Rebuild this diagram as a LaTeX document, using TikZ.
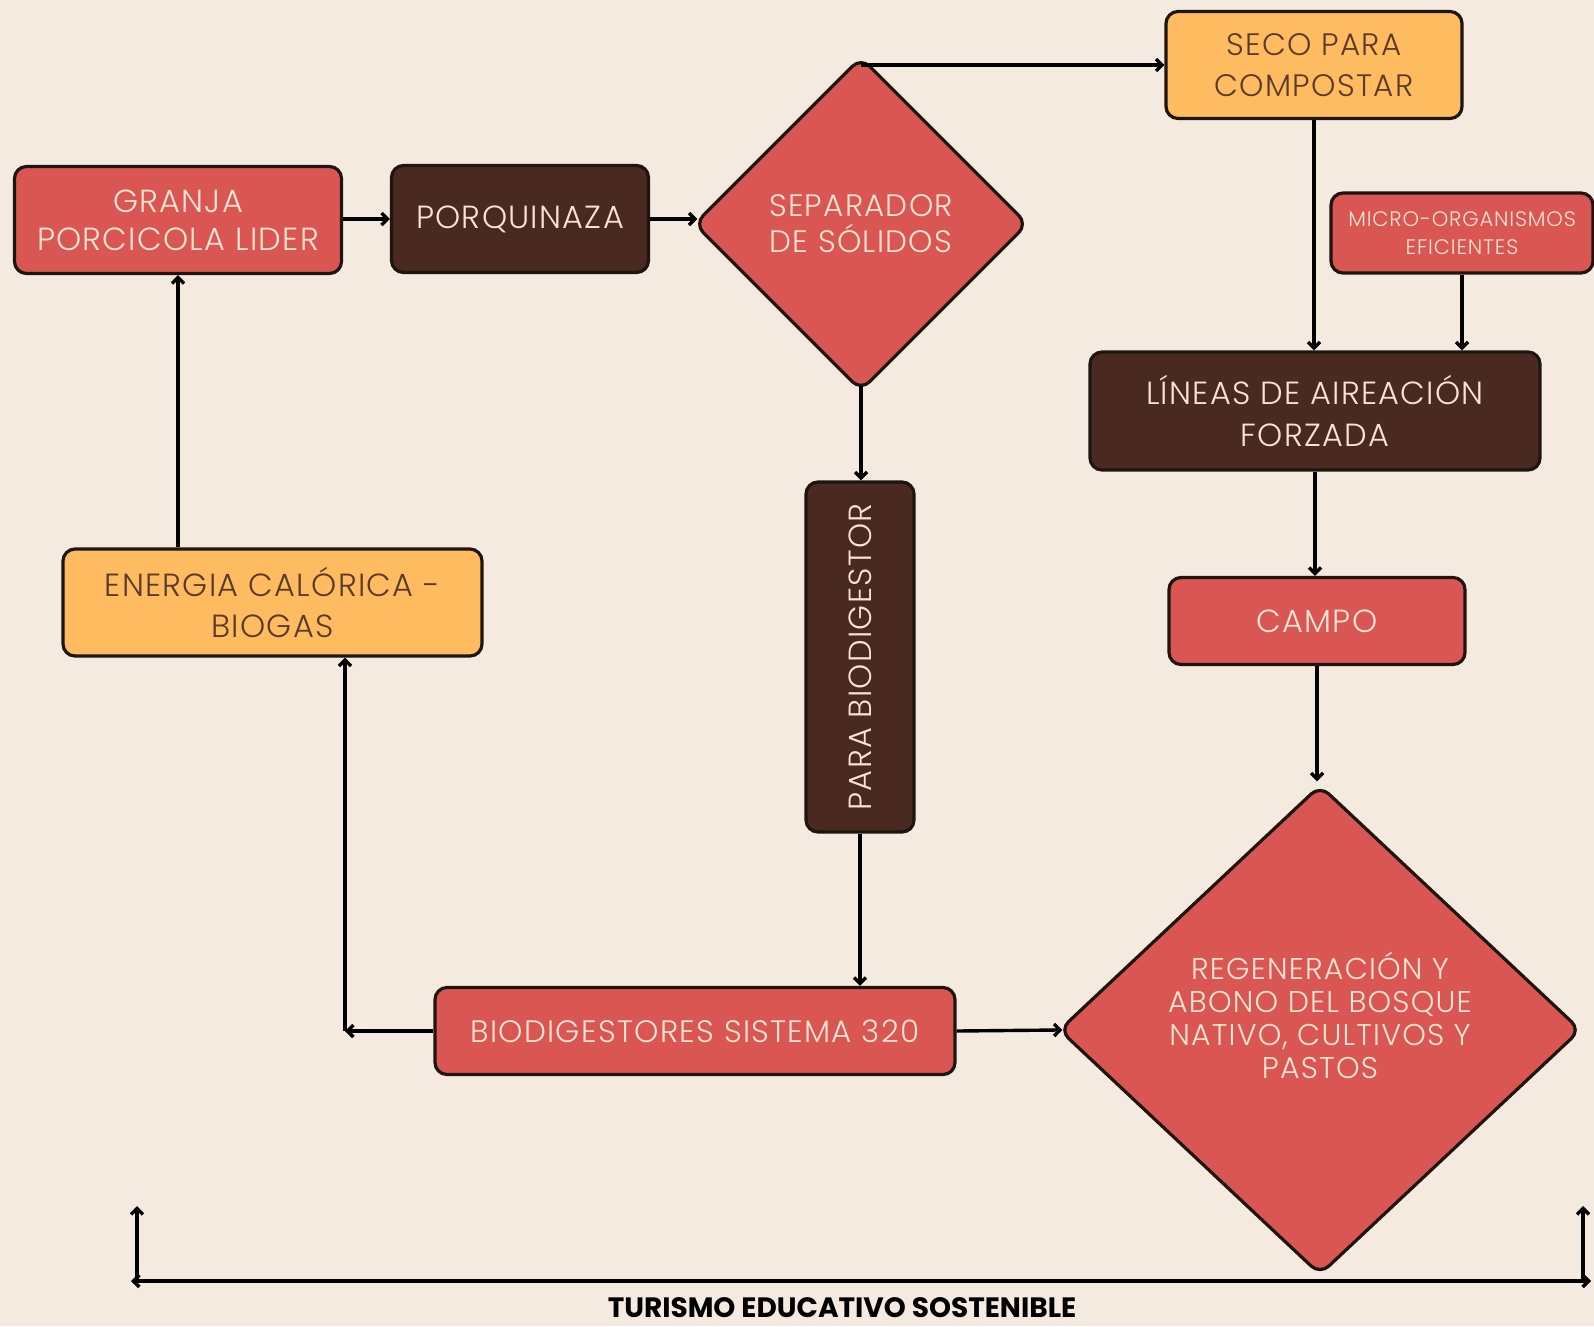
\documentclass[tikz,border=0pt]{standalone}
\usepackage{fontspec}
\setmainfont{Poppins}
\newfontfamily\boxfont{Poppins Light}[LetterSpace=4]
\usetikzlibrary{shapes.geometric,arrows.meta}
\definecolor{bg}{HTML}{F5EADF}
\definecolor{boxred}{HTML}{DA5652}
\definecolor{boxbrown}{HTML}{4A2A20}
\definecolor{boxorange}{HTML}{FFBB60}
\definecolor{cream}{HTML}{F7E4D4}
\definecolor{txtbrown}{HTML}{5A3A2A}
\definecolor{edge}{HTML}{1E1410}
\begin{document}
\begin{tikzpicture}[x=1pt,y=-1pt,
  box/.style={draw=edge, line width=3.2pt, rounded corners=12pt, inner sep=0pt, align=center, text=cream,
    font=\boxfont\fontsize{32}{38}\selectfont},
  redbox/.style={box, fill=boxred},
  brownbox/.style={box, fill=boxbrown},
  orangebox/.style={box, fill=boxorange, text=txtbrown},
  dia/.style={diamond, draw=edge, line width=3.2pt, rounded corners=12pt, fill=boxred, text=cream,
    align=center, inner sep=0pt},
  conn/.style={draw=black, line width=3.4pt, -{Straight Barb[length=6pt,width=12pt]}},
  conn2/.style={draw=black, line width=3.4pt, {Straight Barb[length=6pt,width=12pt]}-{Straight Barb[length=6pt,width=12pt]}}
]
\fill[bg] (0,0) rectangle (1594,1326);
\useasboundingbox (0,0) rectangle (1594,1326);

% nodes
\node[redbox, minimum width=327pt, minimum height=107pt] (granja) at (178,220) {GRANJA\\PORCICOLA LIDER};
\node[brownbox, minimum width=257pt, minimum height=107pt] (porq) at (520,219) {PORQUINAZA};
\node[dia, minimum width=334pt, minimum height=334pt, font=\boxfont\fontsize{31}{36}\selectfont] (sep) at (861,224) {SEPARADOR\\DE SÓLIDOS};
\node[orangebox, minimum width=296pt, minimum height=107pt, font=\boxfont\fontsize{31}{41}\selectfont] (seco) at (1314,65) {SECO PARA\\COMPOSTAR};
\node[redbox, minimum width=262pt, minimum height=80pt, font=\boxfont\fontsize{21}{27.5}\selectfont] (micro) at (1462,233) {MICRO-ORGANISMOS\\EFICIENTES};
\node[brownbox, minimum width=450pt, minimum height=118pt, font=\boxfont\fontsize{32}{42}\selectfont] (lineas) at (1315,411) {LÍNEAS DE AIREACIÓN\\FORZADA};
\node[redbox, minimum width=296pt, minimum height=87pt] (campo) at (1317,621) {CAMPO};
\node[dia, minimum width=522pt, minimum height=490pt, font=\boxfont\fontsize{30}{33}\selectfont] (reg) at (1320,1030) {REGENERACIÓN Y\\ABONO DEL BOSQUE\\NATIVO, CULTIVOS Y\\PASTOS\\[-13pt]\strut};
\node[brownbox, rotate=90, minimum width=350pt, minimum height=108pt] (pb) at (860,657) {PARA BIODIGESTOR};
\node[orangebox, minimum width=419pt, minimum height=107pt, font=\boxfont\fontsize{32}{41}\selectfont] (energia) at (272.5,602.5) {ENERGIA CALÓRICA -\\BIOGAS};
\node[redbox, minimum width=520pt, minimum height=87pt, font=\boxfont\fontsize{31}{37}\selectfont] (bio) at (695,1031) {BIODIGESTORES SISTEMA 320};
\node[font=\fontsize{28}{30}\selectfont\bfseries, text=black] (turismo) at (842,1308) {TURISMO EDUCATIVO SOSTENIBLE};

\coordinate (corner) at (345,1031);
\coordinate (bl) at (131,1281);
\coordinate (br) at (1591,1281);
\coordinate (lb) at (137,1281);
\coordinate (lt) at (137,1206);
\coordinate (rb) at (1583,1281);
\coordinate (rt) at (1583,1206);

% connectors
\draw[conn] (granja.east |- porq.west) -- (porq.west);
\draw[conn, shorten >=-5pt] (porq.east) -- (porq.east -| sep.west);
\draw[conn] (sep.north |- seco.west) -- (seco.west);
\draw[conn] (seco.south) -- (seco.south |- lineas.north);
\draw[conn] (micro.south) -- (micro.south |- lineas.north);
\draw[conn] (lineas.south) -- (lineas.south |- campo.north);
\draw[conn, shorten >=2pt] (campo.south) -- (campo.south |- reg.north);
\draw[conn, shorten <=-7pt] (sep.south) -- (sep.south |- pb.east);
\draw[conn] (pb.west) -- (pb.west |- bio.north);
\draw[conn, shorten >=-5pt] (bio.east) -- (reg.west);
\draw[conn] (bio.west) -- (corner);
\draw[conn] (corner) -- (corner |- energia.south);
\draw[conn] (granja.south |- energia.north) -- (granja.south);
\draw[conn2] (bl) -- (br);
\draw[conn] (lb) -- (lt);
\draw[conn] (rb) -- (rt);
\end{tikzpicture}
\end{document}
